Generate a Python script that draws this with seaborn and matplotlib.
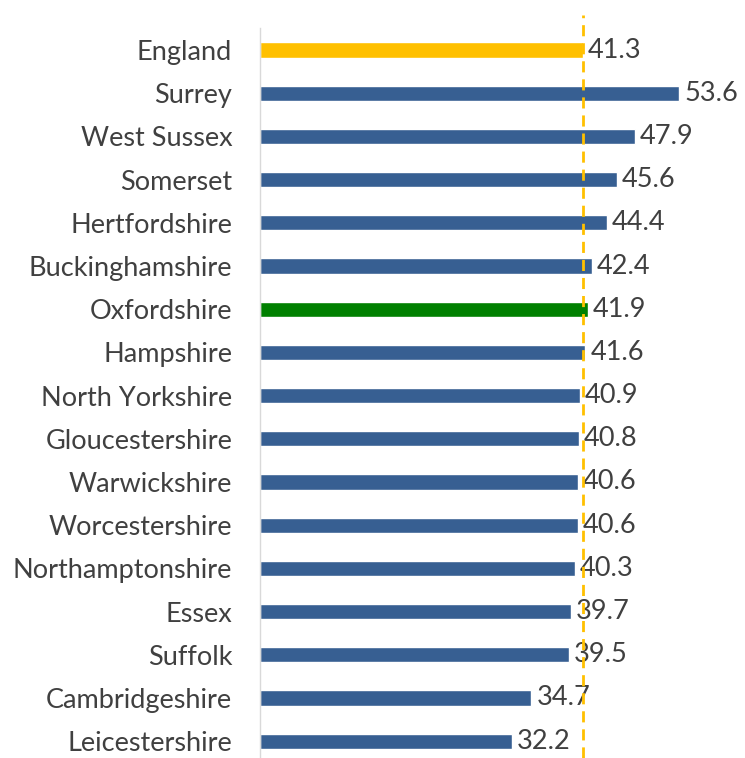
import matplotlib
matplotlib.use("Agg")
import matplotlib.pyplot as plt
import seaborn as sns
import pandas as pd

areas = ["England", "Surrey", "West Sussex", "Somerset", "Hertfordshire",
         "Buckinghamshire", "Oxfordshire", "Hampshire", "North Yorkshire",
         "Gloucestershire", "Warwickshire", "Worcestershire",
         "Northamptonshire", "Essex", "Suffolk", "Cambridgeshire",
         "Leicestershire"]
values = [41.3, 53.6, 47.9, 45.6, 44.4, 42.4, 41.9, 41.6, 40.9, 40.8, 40.6,
          40.6, 40.3, 39.7, 39.5, 34.7, 32.2]
england_value = 41.3

BLUE = "#375F92"
GOLD = "#FFC000"
GREEN = "#008000"
TEXT = "#404040"

palette = {a: BLUE for a in areas}
palette["England"] = GOLD
palette["Oxfordshire"] = GREEN

df = pd.DataFrame({"area": areas, "value": values})

sns.set_theme(style="white")
plt.rcParams["font.family"] = ["Lato", "DejaVu Sans"]

fig = plt.figure(figsize=(7.45, 7.58), dpi=100)
ax = fig.add_axes([260 / 745, 0, 485 / 745, 730 / 758])

sns.barplot(data=df, y="area", x="value", hue="area", palette=palette,
            order=areas, hue_order=areas, width=0.35, legend=False,
            saturation=1, ax=ax)

for cont in ax.containers:
    ax.bar_label(cont, fmt="%.1f", padding=3.5, fontsize=19.5, color=TEXT)

ax.axvline(england_value, ymin=0, ymax=1.018, color=GOLD, lw=2,
           ls=(0, (4, 2.5)), clip_on=False, zorder=5)

ax.set_xlim(0, 62)
ax.set_ylim(16.39, -0.51)
ax.set_xlabel("")
ax.set_ylabel("")
ax.set_xticks([])
ax.tick_params(axis="y", length=0, pad=20, labelsize=19.5, labelcolor=TEXT)
for side in ["top", "right", "bottom"]:
    ax.spines[side].set_visible(False)
ax.spines["left"].set_color("#D9D9D9")
ax.spines["left"].set_linewidth(1)

fig.savefig("out.png", dpi=100)
